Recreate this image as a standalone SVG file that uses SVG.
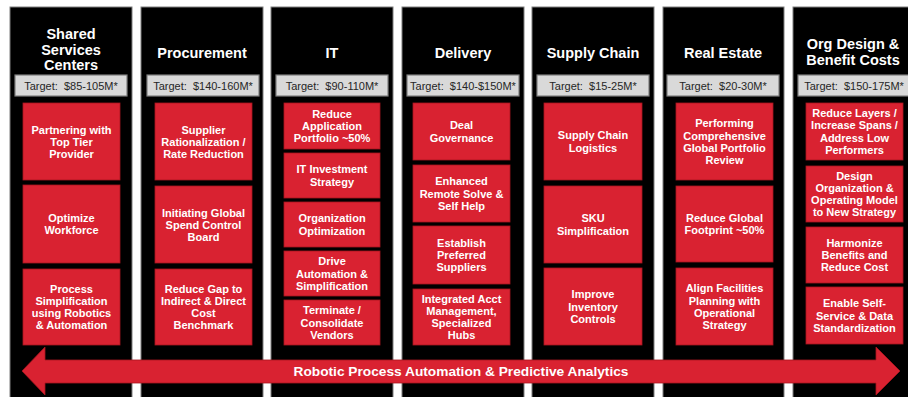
<svg xmlns="http://www.w3.org/2000/svg" width="908" height="397" viewBox="0 0 908 397">
<style>
.col{fill:#000;stroke:#7f7f7f;stroke-width:1}
.tgt{fill:#d9d9d9;stroke:#7f7f7f;stroke-width:1.2}
.box{fill:#d92231;stroke:#a8151f;stroke-width:0.8}
.hd{font-family:"Liberation Sans",Arial,sans-serif;font-weight:bold;font-size:14.5px;fill:#fff;text-anchor:middle}
.tt{font-family:"Liberation Sans",Arial,sans-serif;font-size:11px;fill:#262626;text-anchor:middle;white-space:pre}
.bt{font-family:"Liberation Sans",Arial,sans-serif;font-weight:bold;font-size:11px;fill:#fff;text-anchor:middle}
.at{font-family:"Liberation Sans",Arial,sans-serif;font-weight:bold;font-size:13px;fill:#fff;text-anchor:middle}
</style>
<rect width="908" height="397" fill="#fff"/>

<g id="col-shared">
<rect class="col" x="10" y="7" width="122" height="395"/>
<text class="hd" x="71" y="39">Shared</text>
<text class="hd" x="71" y="55">Services</text>
<text class="hd" x="71" y="70">Centers</text>
<rect class="tgt" x="15" y="75" width="112" height="21"/>
<text class="tt" x="71" y="90" xml:space="preserve">Target:  $85-105M*</text>
<g id="ssc-1"><rect class="box" x="23" y="103" width="97" height="77"/>
<text class="bt" x="71.5" y="133.5">Partnering with</text><text class="bt" x="71.5" y="145.7">Top Tier</text><text class="bt" x="71.5" y="157.9">Provider</text></g>
<g id="ssc-2"><rect class="box" x="23" y="185" width="97" height="78"/>
<text class="bt" x="71.5" y="222">Optimize</text><text class="bt" x="71.5" y="234.2">Workforce</text></g>
<g id="ssc-3"><rect class="box" x="23" y="269" width="97" height="76"/>
<text class="bt" x="71.5" y="292.7">Process</text><text class="bt" x="71.5" y="304.9">Simplification</text><text class="bt" x="71.5" y="317.1">using Robotics</text><text class="bt" x="71.5" y="329.3">&amp; Automation</text></g>
</g>

<g id="col-procurement">
<rect class="col" x="141" y="7" width="122" height="395"/>
<text class="hd" x="202" y="58">Procurement</text>
<rect class="tgt" x="147" y="75" width="112" height="21"/>
<text class="tt" x="203" y="90" xml:space="preserve">Target:  $140-160M*</text>
<g id="proc-1"><rect class="box" x="155" y="103" width="97" height="77"/>
<text class="bt" x="203.5" y="133.5">Supplier</text><text class="bt" x="203.5" y="145.7">Rationalization /</text><text class="bt" x="203.5" y="157.9">Rate Reduction</text></g>
<g id="proc-2"><rect class="box" x="155" y="186" width="97" height="77"/>
<text class="bt" x="203.5" y="216.5">Initiating Global</text><text class="bt" x="203.5" y="228.7">Spend Control</text><text class="bt" x="203.5" y="240.9">Board</text></g>
<g id="proc-3"><rect class="box" x="155" y="269" width="97" height="76"/>
<text class="bt" x="203.5" y="292.7">Reduce Gap to</text><text class="bt" x="203.5" y="304.9">Indirect &amp; Direct</text><text class="bt" x="203.5" y="317.1">Cost</text><text class="bt" x="203.5" y="329.3">Benchmark</text></g>
</g>

<g id="col-it">
<rect class="col" x="271" y="7" width="122" height="395"/>
<text class="hd" x="332" y="58">IT</text>
<rect class="tgt" x="276" y="75" width="112" height="21"/>
<text class="tt" x="332" y="90" xml:space="preserve">Target:  $90-110M*</text>
<g id="it-1"><rect class="box" x="284" y="103" width="96" height="46"/>
<text class="bt" x="332" y="117.7">Reduce</text><text class="bt" x="332" y="129.9">Application</text><text class="bt" x="332" y="142.1">Portfolio ~50%</text></g>
<g id="it-2"><rect class="box" x="284" y="153" width="96" height="45"/>
<text class="bt" x="332" y="173.4">IT Investment</text><text class="bt" x="332" y="185.6">Strategy</text></g>
<g id="it-3"><rect class="box" x="284" y="202" width="96" height="45"/>
<text class="bt" x="332" y="222.4">Organization</text><text class="bt" x="332" y="234.6">Optimization</text></g>
<g id="it-4"><rect class="box" x="284" y="251" width="96" height="45"/>
<text class="bt" x="332" y="265.3">Drive</text><text class="bt" x="332" y="277.5">Automation &amp;</text><text class="bt" x="332" y="289.7">Simplification</text></g>
<g id="it-5"><rect class="box" x="284" y="300" width="96" height="45"/>
<text class="bt" x="332" y="314.3">Terminate /</text><text class="bt" x="332" y="326.5">Consolidate</text><text class="bt" x="332" y="338.7">Vendors</text></g>
</g>

<g id="col-delivery">
<rect class="col" x="402" y="7" width="122" height="395"/>
<text class="hd" x="463" y="58">Delivery</text>
<rect class="tgt" x="407" y="75" width="112" height="21"/>
<text class="tt" x="463" y="90" xml:space="preserve">Target:  $140-$150M*</text>
<g id="del-1"><rect class="box" x="413" y="103" width="97" height="57"/>
<text class="bt" x="461.5" y="129.4">Deal</text><text class="bt" x="461.5" y="141.6">Governance</text></g>
<g id="del-2"><rect class="box" x="413" y="165" width="97" height="57"/>
<text class="bt" x="461.5" y="185.3">Enhanced</text><text class="bt" x="461.5" y="197.5">Remote Solve &amp;</text><text class="bt" x="461.5" y="209.7">Self Help</text></g>
<g id="del-3"><rect class="box" x="413" y="226" width="97" height="58"/>
<text class="bt" x="461.5" y="246.8">Establish</text><text class="bt" x="461.5" y="259">Preferred</text><text class="bt" x="461.5" y="271.2">Suppliers</text></g>
<g id="del-4"><rect class="box" x="413" y="289" width="97" height="56"/>
<text class="bt" x="461.5" y="302.7">Integrated Acct</text><text class="bt" x="461.5" y="314.9">Management,</text><text class="bt" x="461.5" y="327.1">Specialized</text><text class="bt" x="461.5" y="339.3">Hubs</text></g>
</g>

<g id="col-supply">
<rect class="col" x="532" y="7" width="122" height="395"/>
<text class="hd" x="593" y="58">Supply Chain</text>
<rect class="tgt" x="537" y="75" width="112" height="21"/>
<text class="tt" x="593" y="90" xml:space="preserve">Target:  $15-25M*</text>
<g id="sc-1"><rect class="box" x="544" y="103" width="98" height="77"/>
<text class="bt" x="593" y="139.4">Supply Chain</text><text class="bt" x="593" y="151.6">Logistics</text></g>
<g id="sc-2"><rect class="box" x="544" y="186" width="98" height="77"/>
<text class="bt" x="593" y="222.4">SKU</text><text class="bt" x="593" y="234.6">Simplification</text></g>
<g id="sc-3"><rect class="box" x="544" y="268" width="98" height="77"/>
<text class="bt" x="593" y="298.3">Improve</text><text class="bt" x="593" y="310.5">Inventory</text><text class="bt" x="593" y="322.7">Controls</text></g>
</g>

<g id="col-realestate">
<rect class="col" x="663" y="7" width="121" height="395"/>
<text class="hd" x="723" y="58">Real Estate</text>
<rect class="tgt" x="667" y="75" width="112" height="21"/>
<text class="tt" x="723" y="90" xml:space="preserve">Target:  $20-30M*</text>
<g id="re-1"><rect class="box" x="676" y="103" width="97" height="77"/>
<text class="bt" x="724.5" y="127.4">Performing</text><text class="bt" x="724.5" y="139.6">Comprehensive</text><text class="bt" x="724.5" y="151.8">Global Portfolio</text><text class="bt" x="724.5" y="164">Review</text></g>
<g id="re-2"><rect class="box" x="676" y="186" width="97" height="76"/>
<text class="bt" x="724.5" y="222">Reduce Global</text><text class="bt" x="724.5" y="234.2">Footprint ~50%</text></g>
<g id="re-3"><rect class="box" x="676" y="268" width="97" height="77"/>
<text class="bt" x="724.5" y="292.3">Align Facilities</text><text class="bt" x="724.5" y="304.5">Planning with</text><text class="bt" x="724.5" y="316.7">Operational</text><text class="bt" x="724.5" y="328.9">Strategy</text></g>
</g>

<g id="col-orgdesign">
<rect class="col" x="793" y="7" width="125" height="395"/>
<text class="hd" x="853" y="49">Org Design &amp;</text>
<text class="hd" x="853" y="65">Benefit Costs</text>
<rect class="tgt" x="798" y="75" width="114" height="21"/>
<text class="tt" x="854" y="90" xml:space="preserve">Target:  $150-175M*</text>
<g id="org-1"><rect class="box" x="806" y="103" width="97" height="57"/>
<text class="bt" x="854.5" y="117.2">Reduce Layers /</text><text class="bt" x="854.5" y="129.4">Increase Spans /</text><text class="bt" x="854.5" y="141.6">Address Low</text><text class="bt" x="854.5" y="153.8">Performers</text></g>
<g id="org-2"><rect class="box" x="806" y="166" width="97" height="56"/>
<text class="bt" x="854.5" y="179.7">Design</text><text class="bt" x="854.5" y="191.9">Organization &amp;</text><text class="bt" x="854.5" y="204.1">Operating Model</text><text class="bt" x="854.5" y="216.3">to New Strategy</text></g>
<g id="org-3"><rect class="box" x="806" y="227" width="97" height="56"/>
<text class="bt" x="854.5" y="246.8">Harmonize</text><text class="bt" x="854.5" y="259">Benefits and</text><text class="bt" x="854.5" y="271.2">Reduce Cost</text></g>
<g id="org-4"><rect class="box" x="806" y="287" width="97" height="57"/>
<text class="bt" x="854.5" y="307.3">Enable Self-</text><text class="bt" x="854.5" y="319.5">Service &amp; Data</text><text class="bt" x="854.5" y="331.7">Standardization</text></g>
</g>

<g id="connectors">
<g id="rpa-arrow">
<polygon points="22,371 45,347 45,360 876,360 876,347 900,371 876,395 876,383 45,383 45,395" fill="#d92231" stroke="#a8151f" stroke-width="0.8"/>
<text class="at" x="461" y="376" textLength="335" lengthAdjust="spacingAndGlyphs">Robotic Process Automation &amp; Predictive Analytics</text>
</g>
</g>
</svg>
